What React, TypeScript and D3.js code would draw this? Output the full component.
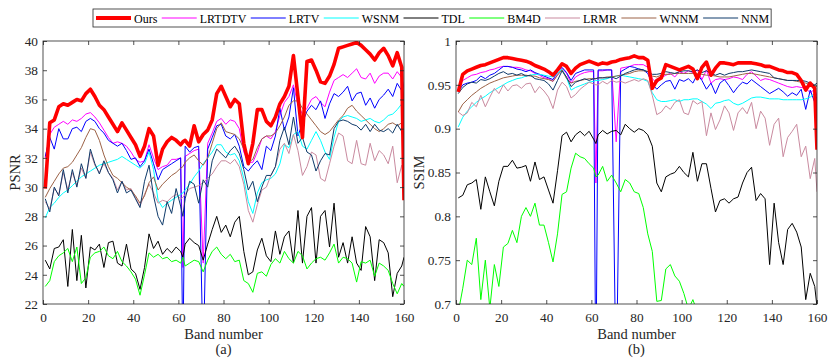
import React, { useEffect, useRef } from 'react';
import * as d3 from 'd3';

// band positions sampled from the figure (every other band, plus 62 and 160)
const BANDS = [
  1, 3, 5, 7, 9, 11, 13, 15, 17, 19,
  21, 23, 25, 27, 29, 31, 33, 35, 37, 39,
  41, 43, 45, 47, 49, 51, 53, 55, 57, 59,
  61, 62, 63, 65, 67, 69, 71, 73, 75, 77,
  79, 81, 83, 85, 87, 89, 91, 93, 95, 97,
  99, 101, 103, 105, 107, 109, 111, 113, 115, 117,
  119, 121, 123, 125, 127, 129, 131, 133, 135, 137,
  139, 141, 143, 145, 147, 149, 151, 153, 155, 157,
  159, 160,
];

const X_TICKS = [0, 20, 40, 60, 80, 100, 120, 140, 160];
const PSNR_TICKS = [22, 24, 26, 28, 30, 32, 34, 36, 38, 40];
const SSIM_TICKS = [0.7, 0.75, 0.8, 0.85, 0.9, 0.95, 1];

const METHODS = ['Ours', 'LRTDTV', 'LRTV', 'WSNM', 'TDL', 'BM4D', 'LRMR', 'WNNM', 'NNM'];
const COLORS = ['#ff0000', '#ff00ff', '#0000ff', '#00ffff', '#000000', '#00ff00', '#c98a9f', '#9c6246', '#0e3a6a'];

// ---- PSNR (a) ----
const PSNR_OURS = [
  29.9, 34.4, 34.6, 35.5, 35.7, 35.6, 35.8, 36.0, 35.9, 36.4,
  36.7, 36.2, 35.6, 35.3, 34.8, 34.3, 33.8, 34.4, 33.9, 33.4,
  32.9, 32.1, 32.8, 34.0, 33.5, 31.5, 32.6, 33.1, 33.4, 33.2,
  32.9, 33.1, 33.2, 32.8, 34.2, 33.1, 33.6, 33.9, 34.6, 36.4,
  36.9, 36.2, 35.5, 36.0, 35.7, 33.0, 31.6, 33.0, 35.3, 35.3,
  34.5, 34.2, 34.8, 35.7, 36.2, 36.9, 39.0, 36.2, 33.4, 38.6,
  38.7, 38.0, 37.2, 37.1, 37.6, 38.4, 39.5, 39.6, 39.7, 39.8,
  39.9, 39.7, 39.4, 39.1, 38.7, 39.2, 39.5, 39.0, 38.3, 39.2,
  38.2, 29.1,
];
const PSNR_LRTDTV = [
  32.0, 33.6, 34.1, 34.3, 34.5, 34.3, 34.6, 34.5, 34.7, 35.0,
  35.1, 34.8, 34.4, 33.9, 33.4, 33.0, 33.1, 33.0, 32.8, 32.4,
  31.9, 31.7, 31.8, 32.9, 32.0, 31.2, 31.4, 31.5, 31.9, 31.9,
  32.0, 24.5, 32.1, 32.3, 32.5, 32.6, 24.8, 33.0, 33.7, 34.5,
  34.7, 34.3, 34.6, 34.5, 34.0, 32.4, 31.7, 31.7, 32.4, 33.3,
  33.5, 33.3, 33.8, 34.9, 35.8, 36.2, 37.0, 35.6, 35.0, 35.4,
  36.0, 36.2, 35.8, 35.5, 36.5, 37.3, 37.5, 37.7, 37.5, 37.8,
  38.1, 37.5, 37.4, 37.8, 37.1, 37.6, 37.8, 37.8, 37.4, 37.9,
  37.5, 36.8,
];
const PSNR_LRTV = [
  32.1, 33.4, 32.6, 34.0, 33.3, 33.3, 34.0, 34.1, 33.8, 34.5,
  34.7, 34.5, 34.0, 33.7, 33.2, 33.0, 32.8, 33.0, 32.5, 31.9,
  32.0, 31.4, 31.8, 32.6, 31.6, 30.5, 31.2, 31.4, 31.6, 31.8,
  32.0, 18.0, 32.8, 32.4, 32.7, 32.8, 18.0, 32.6, 33.4, 34.2,
  34.3, 33.5, 33.3, 33.6, 32.8, 31.4, 31.1, 31.5, 31.8, 31.2,
  32.8, 32.5, 33.5, 35.4, 33.9, 34.8, 36.8, 33.5, 34.4, 35.2,
  35.6, 35.3, 35.9, 34.7, 35.7, 36.4, 36.2, 36.5, 36.9, 35.9,
  36.4, 36.5, 35.6, 36.1, 35.4, 36.0, 36.3, 36.7, 36.2, 37.1,
  36.6, 35.0,
];
const PSNR_WSNM = [
  27.9, 28.6, 28.9, 29.3, 29.6, 29.8, 30.1, 30.4, 30.7, 30.9,
  31.1, 31.3, 31.5, 31.6, 31.7, 31.8, 31.9, 32.1, 31.9, 31.7,
  31.5, 31.3, 31.6, 32.4, 31.2, 29.1, 28.6, 28.9, 29.1, 29.3,
  29.5, 29.6, 29.8, 30.2, 30.7, 31.1, 31.6, 32.0, 32.4, 32.9,
  32.9, 32.4, 32.2, 32.3, 31.8, 30.6, 29.0, 28.2, 29.6, 30.3,
  30.5, 30.6, 30.9, 31.6, 32.9, 32.7, 33.6, 33.8, 32.8, 32.6,
  33.2, 33.8, 33.2, 32.4, 31.9, 33.4, 34.5, 34.8, 34.9, 34.8,
  34.7, 34.5, 34.6, 34.7, 34.5, 34.4, 34.6, 34.9, 35.0, 35.3,
  35.7, 34.9,
];
const PSNR_TDL = [
  25.0, 24.4, 25.8, 25.9, 26.4, 23.2, 27.1, 23.6, 26.7, 23.1,
  25.9, 25.7, 26.1, 24.5, 26.2, 26.3, 24.8, 24.6, 26.1, 24.4,
  24.1, 23.0, 24.5, 26.8, 25.8, 26.3, 25.4, 25.8, 25.5, 25.9,
  25.6, 25.2, 26.1, 26.5, 26.2, 26.0, 25.0, 26.1, 27.1, 28.0,
  26.9, 27.4, 26.6, 27.6, 28.0, 25.6, 24.0, 24.2, 25.7, 26.5,
  25.3, 24.9, 27.0, 25.4, 26.6, 27.0, 24.8, 28.4, 24.8, 28.0,
  28.6, 24.8, 28.0, 28.4, 25.9, 28.9, 25.2, 26.2, 24.8, 26.6,
  24.8, 24.3, 27.3, 26.6, 23.6, 26.4, 26.2, 25.5, 22.5, 24.1,
  24.6, 25.2,
];
const PSNR_BM4D = [
  23.2, 23.6, 24.9, 25.3, 25.5, 25.8, 24.9, 25.9, 23.4, 23.8,
  25.2, 25.5, 25.6, 25.9, 25.3, 25.1, 25.6, 24.9, 24.6, 24.2,
  23.7, 22.6, 24.0, 25.5, 25.2, 25.4, 25.1, 25.2, 24.9, 25.0,
  24.8, 25.2, 24.6, 24.8, 25.0, 24.9, 24.2, 25.0, 25.6, 25.9,
  25.4, 25.1, 25.4, 24.9, 25.0, 23.6, 23.4, 22.8, 24.1, 24.2,
  23.9, 24.7, 25.1, 24.8, 25.6, 25.1, 24.8, 25.6, 25.3, 24.4,
  24.8, 25.1, 25.2, 25.0, 25.5, 26.1, 24.8, 25.2, 25.1, 24.8,
  23.5, 24.9, 24.8, 25.0, 23.9, 24.8, 24.6, 24.3, 23.4, 22.7,
  23.4, 23.2,
];
const PSNR_LRMR = [
  29.0, 28.5, 29.9, 29.5, 31.0, 29.8, 31.0, 30.1, 31.3, 30.6,
  32.4, 31.5, 31.0, 31.6, 31.0, 30.6, 29.8, 30.4, 29.8, 29.9,
  29.3, 28.7, 29.5, 30.2, 29.6, 28.9, 29.1, 29.0, 29.3, 29.5,
  29.2, 29.3, 29.5, 29.9, 30.0, 30.1, 30.3, 30.6, 30.9, 31.4,
  31.8, 31.8, 31.6, 31.9, 31.4, 30.2, 28.4, 27.6, 28.8, 29.8,
  30.0, 30.8, 31.4, 32.6, 33.0, 32.3, 33.6, 32.5, 30.8, 31.4,
  32.4, 32.2, 30.6, 30.4, 31.6, 32.8, 33.7, 33.5, 31.8, 31.6,
  33.2, 31.6, 31.5, 33.0, 31.8, 32.5, 32.2, 31.6, 32.8, 30.3,
  31.5, 30.4,
];
const PSNR_WNNM = [
  29.3, 29.9, 30.4, 30.9, 31.3, 31.4, 31.7, 32.2, 32.7, 33.4,
  34.0, 33.9, 33.2, 32.2, 31.4, 30.8, 30.6, 30.3, 30.0, 29.8,
  29.4, 28.9, 29.4, 30.3, 30.7, 29.8, 30.2, 30.5, 30.8, 31.0,
  31.3, 31.4, 31.7, 32.0, 32.2, 31.8, 31.5, 32.0, 33.0, 34.0,
  34.4, 33.8, 33.7, 33.6, 33.3, 32.6, 31.7, 31.9, 32.7, 33.3,
  33.5, 33.5, 33.7, 34.2, 34.8, 35.6, 35.9, 35.9, 35.4, 35.0,
  34.6, 34.2, 33.8, 33.6, 33.8, 34.2, 34.6, 34.9, 35.4, 35.6,
  35.2, 34.9, 34.6, 34.3, 34.0, 33.8, 34.0, 34.3, 34.4, 34.2,
  34.4, 34.3,
];
const PSNR_NNM = [
  29.2, 28.3, 30.0, 29.4, 31.2, 29.6, 31.2, 30.0, 31.6, 30.6,
  32.6, 31.6, 30.9, 31.8, 31.0, 30.5, 29.6, 30.4, 29.6, 29.8,
  29.2, 28.6, 30.4, 31.5, 29.4, 28.0, 27.4, 29.0, 28.2, 29.9,
  28.7, 28.0, 29.2, 30.4, 30.2, 28.9, 30.5, 30.0, 31.8, 32.6,
  32.3, 32.0, 32.5, 32.8, 32.3, 31.2, 29.8, 30.4, 29.0, 30.0,
  30.8, 30.8, 31.4, 33.2, 34.1, 32.9, 34.8, 33.0, 33.4, 32.4,
  32.2, 31.1, 31.8, 32.3, 32.2, 34.0, 34.5, 34.6, 34.5, 34.3,
  34.2, 33.9, 34.3, 33.8, 34.3, 33.9, 33.8, 34.0, 33.7, 34.3,
  33.8, 33.1,
];

// ---- SSIM (b) ----
const SSIM_OURS = [
  0.942, 0.962, 0.966, 0.968, 0.970, 0.972, 0.973, 0.975, 0.977, 0.979,
  0.981, 0.981, 0.980, 0.979, 0.978, 0.977, 0.975, 0.972, 0.970, 0.968,
  0.965, 0.961, 0.967, 0.974, 0.971, 0.963, 0.969, 0.973, 0.975, 0.977,
  0.975, 0.974, 0.973, 0.975, 0.974, 0.976, 0.977, 0.979, 0.980, 0.981,
  0.983, 0.981, 0.981, 0.978, 0.946, 0.955, 0.958, 0.973, 0.971, 0.969,
  0.967, 0.969, 0.971, 0.968, 0.957, 0.970, 0.976, 0.961, 0.969, 0.975,
  0.975, 0.974, 0.973, 0.975, 0.975, 0.975, 0.975, 0.974, 0.973, 0.971,
  0.971, 0.969, 0.967, 0.966, 0.964, 0.964, 0.962, 0.955, 0.944, 0.952,
  0.946, 0.876,
];
const SSIM_LRTDTV = [
  0.947, 0.955, 0.958, 0.961, 0.962, 0.964, 0.965, 0.967, 0.968, 0.970,
  0.971, 0.971, 0.970, 0.970, 0.969, 0.967, 0.966, 0.963, 0.961, 0.958,
  0.957, 0.954, 0.962, 0.969, 0.963, 0.952, 0.959, 0.962, 0.964, 0.965,
  0.965, 0.838, 0.966, 0.966, 0.967, 0.967, 0.885, 0.969, 0.970, 0.971,
  0.973, 0.973, 0.973, 0.970, 0.957, 0.952, 0.958, 0.961, 0.963, 0.959,
  0.965, 0.963, 0.966, 0.964, 0.967, 0.956, 0.967, 0.952, 0.956, 0.957,
  0.956, 0.957, 0.959, 0.958, 0.956, 0.962, 0.965, 0.960, 0.955, 0.957,
  0.956, 0.954, 0.952, 0.950, 0.948, 0.947, 0.948, 0.947, 0.946, 0.941,
  0.945, 0.937,
];
const SSIM_LRTV = [
  0.942, 0.950, 0.952, 0.953, 0.955, 0.960, 0.957, 0.961, 0.963, 0.967,
  0.971, 0.971, 0.970, 0.968, 0.967, 0.965, 0.967, 0.964, 0.962, 0.960,
  0.958, 0.956, 0.965, 0.970, 0.964, 0.955, 0.963, 0.965, 0.967, 0.967,
  0.967, 0.600, 0.967, 0.967, 0.967, 0.967, 0.600, 0.965, 0.968, 0.971,
  0.970, 0.968, 0.967, 0.963, 0.951, 0.945, 0.950, 0.954, 0.955, 0.945,
  0.956, 0.954, 0.957, 0.952, 0.962, 0.955, 0.945, 0.952, 0.940, 0.952,
  0.956, 0.949, 0.941, 0.948, 0.953, 0.951, 0.956, 0.952, 0.948, 0.944,
  0.940, 0.943, 0.946, 0.942, 0.937, 0.941, 0.938, 0.945, 0.922, 0.944,
  0.930, 0.937,
];
const SSIM_WSNM = [
  0.902, 0.913, 0.920, 0.925, 0.930, 0.934, 0.937, 0.941, 0.944, 0.947,
  0.950, 0.953, 0.955, 0.957, 0.958, 0.960, 0.961, 0.962, 0.962, 0.961,
  0.960, 0.959, 0.963, 0.968, 0.958, 0.944, 0.947, 0.949, 0.951, 0.953,
  0.954, 0.955, 0.955, 0.956, 0.957, 0.959, 0.960, 0.961, 0.960, 0.959,
  0.958, 0.957, 0.956, 0.954, 0.941, 0.933, 0.931, 0.931, 0.932, 0.933,
  0.931, 0.933, 0.933, 0.934, 0.934, 0.931, 0.928, 0.923, 0.929, 0.930,
  0.932, 0.933, 0.929, 0.927, 0.929, 0.932, 0.935, 0.936, 0.936, 0.935,
  0.934, 0.934, 0.934, 0.933, 0.933, 0.933, 0.933, 0.933, 0.934, 0.936,
  0.940, 0.936,
];
const SSIM_TDL = [
  0.821, 0.824, 0.836, 0.838, 0.842, 0.808, 0.845, 0.828, 0.812, 0.840,
  0.857, 0.857, 0.864, 0.855, 0.856, 0.858, 0.840, 0.862, 0.842, 0.845,
  0.830, 0.815, 0.852, 0.892, 0.896, 0.885, 0.893, 0.897, 0.892, 0.897,
  0.888, 0.883, 0.893, 0.898, 0.894, 0.897, 0.898, 0.893, 0.905, 0.900,
  0.896, 0.900, 0.898, 0.893, 0.880, 0.838, 0.828, 0.845, 0.848, 0.850,
  0.857, 0.850, 0.845, 0.873, 0.840, 0.860, 0.860, 0.832, 0.805, 0.818,
  0.820, 0.815, 0.820, 0.822, 0.838, 0.850, 0.856, 0.818, 0.826, 0.820,
  0.745, 0.815, 0.770, 0.745, 0.785, 0.792, 0.782, 0.765, 0.705, 0.735,
  0.720, 0.697,
];
const SSIM_BM4D = [
  0.690, 0.718, 0.750, 0.745, 0.775, 0.705, 0.750, 0.695, 0.745, 0.720,
  0.765, 0.769, 0.784, 0.770, 0.800, 0.810, 0.800, 0.815, 0.790, 0.790,
  0.770, 0.748, 0.780, 0.825, 0.828, 0.855, 0.872, 0.868, 0.866, 0.860,
  0.855, 0.845, 0.847, 0.857, 0.840, 0.847, 0.838, 0.828, 0.842, 0.838,
  0.828, 0.826, 0.810, 0.780, 0.760, 0.703, 0.704, 0.740, 0.745, 0.732,
  0.726, 0.712, 0.694, 0.705, 0.690, 0.670, null, null, null, null,
  null, null, null, null, null, null, null, null, null, null,
  null, null, null, null, null, null, null, null, null, null,
  null, null,
];
const SSIM_LRMR = [
  0.919, 0.915, 0.918, 0.930, 0.925, 0.938, 0.925, 0.936, 0.946, 0.940,
  0.950, 0.943, 0.949, 0.950, 0.946, 0.951, 0.952, 0.941, 0.948, 0.943,
  0.936, 0.923, 0.944, 0.953, 0.948, 0.935, 0.939, 0.945, 0.949, 0.953,
  0.951, 0.950, 0.950, 0.954, 0.951, 0.955, 0.953, 0.954, 0.952, 0.954,
  0.956, 0.954, 0.957, 0.955, 0.938, 0.916, 0.919, 0.926, 0.922, 0.930,
  0.933, 0.918, 0.916, 0.932, 0.928, 0.931, 0.892, 0.918, 0.899, 0.910,
  0.926, 0.918, 0.898, 0.918, 0.924, 0.917, 0.930, 0.900, 0.920, 0.912,
  0.881, 0.905, 0.912, 0.868, 0.890, 0.897, 0.905, 0.868, 0.880, 0.843,
  0.866, 0.828,
];
const SSIM_WNNM = [
  0.919, 0.928, 0.933, 0.938, 0.942, 0.946, 0.949, 0.952, 0.954, 0.956,
  0.958, 0.959, 0.960, 0.961, 0.961, 0.961, 0.960, 0.960, 0.958, 0.957,
  0.956, 0.954, 0.961, 0.967, 0.957, 0.952, 0.954, 0.955, 0.956, 0.957,
  0.957, 0.957, 0.958, 0.958, 0.959, 0.959, 0.960, 0.961, 0.962, 0.963,
  0.965, 0.966, 0.966, 0.965, 0.960, 0.959, 0.961, 0.962, 0.962, 0.963,
  0.963, 0.963, 0.963, 0.963, 0.963, 0.962, 0.961, 0.961, 0.960, 0.959,
  0.959, 0.959, 0.960, 0.961, 0.962, 0.963, 0.963, 0.962, 0.961, 0.960,
  0.959, 0.958, 0.957, 0.956, 0.955, 0.955, 0.954, 0.953, 0.952, 0.950,
  0.948, 0.948,
];
const SSIM_NNM = [
  0.940, 0.947, 0.951, 0.953, 0.952, 0.956, 0.955, 0.957, 0.960, 0.963,
  0.965, 0.962, 0.963, 0.961, 0.963, 0.960, 0.961, 0.957, 0.956, 0.955,
  0.951, 0.944, 0.955, 0.966, 0.959, 0.948, 0.953, 0.955, 0.957, 0.955,
  0.957, 0.957, 0.958, 0.958, 0.958, 0.959, 0.957, 0.960, 0.963, 0.965,
  0.967, 0.968, 0.967, 0.965, 0.962, 0.962, 0.963, 0.965, 0.964, 0.963,
  0.965, 0.966, 0.966, 0.965, 0.967, 0.964, 0.966, 0.963, 0.961, 0.963,
  0.961, 0.963, 0.964, 0.965, 0.965, 0.966, 0.967, 0.966, 0.965, 0.964,
  0.963, 0.958, 0.957, 0.956, 0.955, 0.955, 0.955, 0.955, 0.954, 0.952,
  0.950, 0.952,
];

const PSNR_SERIES = [PSNR_OURS, PSNR_LRTDTV, PSNR_LRTV, PSNR_WSNM, PSNR_TDL, PSNR_BM4D, PSNR_LRMR, PSNR_WNNM, PSNR_NNM];
const SSIM_SERIES = [SSIM_OURS, SSIM_LRTDTV, SSIM_LRTV, SSIM_WSNM, SSIM_TDL, SSIM_BM4D, SSIM_LRMR, SSIM_WNNM, SSIM_NNM];

const FONT = '"Liberation Serif", "Times New Roman", Times, serif';
const INK = '#262626';
const W = 830;
const H = 361;
const TOP = 41;
const BOTTOM = 304;

type Panel = {
  id: string;
  x0: number;
  x1: number;
  domain: [number, number];
  ticks: number[];
  label: string;
  labelX: number;
  caption: string;
  series: (number | null)[][];
};

const PANELS: Panel[] = [
  { id: 'a', x0: 43, x1: 404, domain: [22, 40], ticks: PSNR_TICKS, label: 'PSNR', labelX: 20, caption: '(a)', series: PSNR_SERIES },
  { id: 'b', x0: 456, x1: 817, domain: [0.7, 1], ticks: SSIM_TICKS, label: 'SSIM', labelX: 424, caption: '(b)', series: SSIM_SERIES },
];

const lineWidth = (i: number) => (i === 0 ? 3.6 : 1);

function drawPanel(svg: d3.Selection<SVGSVGElement, unknown, null, undefined>, p: Panel) {
  const x = d3.scaleLinear().domain([0, 160]).range([p.x0, p.x1]);
  const y = d3.scaleLinear().domain(p.domain).range([BOTTOM, TOP]);
  const fmt = (v: d3.NumberValue) => String(+(+v).toFixed(2));

  svg.append('clipPath').attr('id', `clip-${p.id}`)
    .append('rect')
    .attr('x', p.x0).attr('y', TOP)
    .attr('width', p.x1 - p.x0).attr('height', BOTTOM - TOP);

  const line = d3.line<number | null>()
    .defined(v => v != null)
    .x((_, i) => x(BANDS[i]))
    .y(v => y(v as number));

  const g = svg.append('g').attr('clip-path', `url(#clip-${p.id})`);
  // draw the reference methods first, ours on top
  const order = [1, 2, 3, 4, 5, 6, 7, 8, 0];
  order.forEach(i => {
    g.append('path')
      .datum(p.series[i])
      .attr('d', line)
      .attr('fill', 'none')
      .attr('stroke', COLORS[i])
      .attr('stroke-width', lineWidth(i))
      .attr('stroke-linejoin', 'round');
  });

  // axes, MATLAB style: ticks pointing inward on all four sides
  const styleAxis = (sel: d3.Selection<SVGGElement, unknown, null, undefined>) => {
    sel.attr('font-family', FONT).attr('font-size', 13.3);
    sel.select('.domain').remove();
    sel.selectAll('line').attr('stroke', INK).attr('stroke-width', 0.8);
    sel.selectAll('text').attr('fill', INK);
  };

  svg.append('g')
    .attr('transform', `translate(0,${BOTTOM})`)
    .call(d3.axisBottom(x).tickValues(X_TICKS).tickSizeInner(-4).tickSizeOuter(0).tickPadding(9))
    .call(styleAxis);
  svg.append('g')
    .attr('transform', `translate(0,${TOP})`)
    .call(d3.axisTop(x).tickValues(X_TICKS).tickSizeInner(-4).tickSizeOuter(0).tickFormat(() => ''))
    .call(styleAxis);
  svg.append('g')
    .attr('transform', `translate(${p.x0},0)`)
    .call(d3.axisLeft(y).tickValues(p.ticks).tickSizeInner(-4).tickSizeOuter(0).tickPadding(5).tickFormat(fmt))
    .call(styleAxis);
  svg.append('g')
    .attr('transform', `translate(${p.x1},0)`)
    .call(d3.axisRight(y).tickValues(p.ticks).tickSizeInner(-4).tickSizeOuter(0).tickFormat(() => ''))
    .call(styleAxis);

  svg.append('rect')
    .attr('x', p.x0).attr('y', TOP)
    .attr('width', p.x1 - p.x0).attr('height', BOTTOM - TOP)
    .attr('fill', 'none').attr('stroke', INK).attr('stroke-width', 0.8);

  const cx = (p.x0 + p.x1) / 2;
  svg.append('text')
    .attr('transform', `translate(${p.labelX},${(TOP + BOTTOM) / 2}) rotate(-90)`)
    .attr('text-anchor', 'middle')
    .attr('font-family', FONT).attr('font-size', 14.5).attr('fill', INK)
    .text(p.label);
  svg.append('text')
    .attr('x', cx).attr('y', 339)
    .attr('text-anchor', 'middle')
    .attr('font-family', FONT).attr('font-size', 14.5).attr('fill', INK)
    .text('Band number');
  svg.append('text')
    .attr('x', cx).attr('y', 354)
    .attr('text-anchor', 'middle')
    .attr('font-family', FONT).attr('font-size', 14.5).attr('fill', INK)
    .text(p.caption);
}

function drawLegend(svg: d3.Selection<SVGSVGElement, unknown, null, undefined>) {
  const box = svg.append('rect')
    .attr('x', 93).attr('y', 9).attr('height', 18)
    .attr('fill', '#fff').attr('stroke', INK).attr('stroke-width', 0.8);
  const g = svg.append('g').attr('font-family', FONT).attr('font-size', 12).attr('fill', '#000');
  let cursor = 96;
  METHODS.forEach((name, i) => {
    g.append('line')
      .attr('x1', cursor).attr('x2', cursor + 35)
      .attr('y1', 18).attr('y2', 18)
      .attr('stroke', COLORS[i])
      .attr('stroke-width', i === 0 ? 4 : 1);
    const t = g.append('text').attr('x', cursor + 38).attr('y', 22.5).text(name);
    const w = (t.node() as SVGTextElement).getComputedTextLength();
    cursor += 38 + w + (i === METHODS.length - 1 ? 2 : 4.4);
  });
  box.attr('width', cursor - 93);
}

export default function App() {
  const svgRef = useRef<SVGSVGElement>(null);

  useEffect(() => {
    if (!svgRef.current) return;
    const svg = d3.select(svgRef.current);
    svg.selectAll('*').remove();
    PANELS.forEach(p => drawPanel(svg, p));
    drawLegend(svg);
  }, []);

  return (
    <svg
      ref={svgRef}
      width={W}
      height={H}
      style={{ position: 'absolute', left: 0, top: 0, background: '#fff' }}
    />
  );
}
